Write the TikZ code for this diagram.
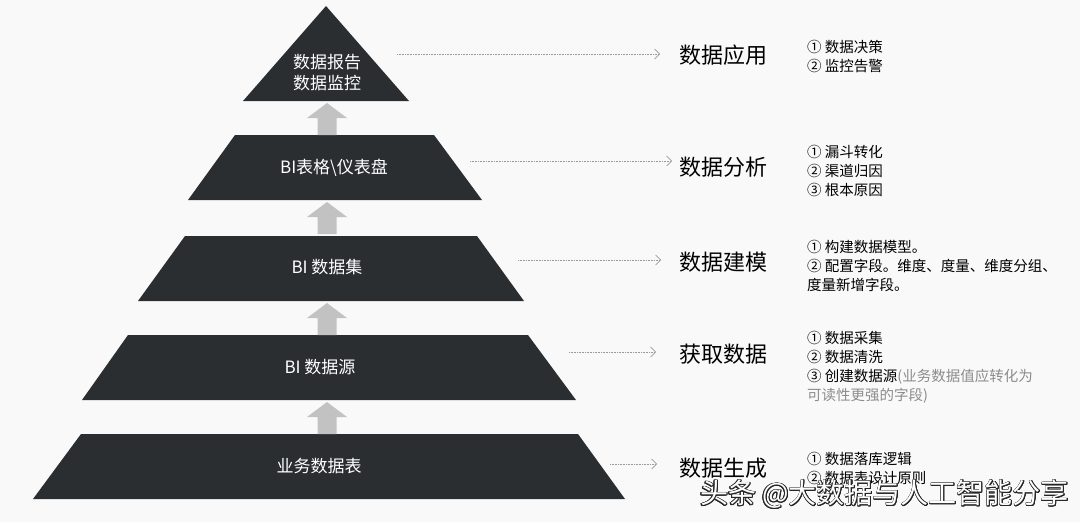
\documentclass[tikz,border=0pt]{standalone}
\usepackage{fontspec}
\setmainfont{Noto Sans CJK SC}
\usepackage[copies]{contour}
\contourlength{0.9pt}
\usetikzlibrary{arrows.meta}
\definecolor{pyr}{HTML}{2A2E31}
\definecolor{bggray}{HTML}{F9F9F9}
\definecolor{liftgray}{HTML}{C2C2C2}
\definecolor{linkgray}{HTML}{9A9A9A}
\definecolor{notegray}{HTML}{8C8C8C}

\begin{document}
\begin{tikzpicture}[x=1pt,y=-1pt,
level/.style={fill=pyr},
lift/.style={fill=liftgray},
tag/.style={text=white,align=center,font=\fontsize{17}{21}\selectfont},
stage/.style={anchor=west,inner sep=0pt,font=\fontsize{22}{26}\selectfont},
note/.style={anchor=west,inner sep=0pt,align=left,font=\fontsize{14.5}{19}\selectfont},
link/.style={draw=linkgray,densely dotted,line width=0.6pt,-{Straight Barb[length=5pt,width=10pt]}}]
\fill[bggray] (0,0) rectangle (1080,522);
\useasboundingbox (0,0) rectangle (1080,522);

\fill[level] (243,101) -- (326,6) -- (409,101) -- cycle;
\foreach \ya/\yb/\a/\b/\c/\d in {135/200/235/434/188/482,236/301/185/477/138/524,335/400/128/528/82/576,434/499/81/578/33/625}
  \fill[level] (\c,\yb) -- (\a,\ya) -- (\b,\ya) -- (\d,\yb) -- cycle;
\foreach \t in {103,202,303,402}
  \fill[lift] (307,\t+15) -- (327,\t) -- (347,\t+15) -- (336.5,\t+15) -- (336.5,\t+32) -- (317.5,\t+32) -- (317.5,\t+15) -- cycle;

\node at (327,72.5) [tag] (top) {数据报告\\数据监控};
\node at (334,168) [tag] (bi1) {BI表格\textbackslash 仪表盘};
\node at (327,267) [tag] (bi2) {BI 数据集};
\node at (320,367) [tag] (bi3) {BI 数据源};
\node at (319,466) [tag] (biz) {业务数据表};

\node at (679,55) [stage] (apply) {数据应用};
\node at (679,167) [stage] (analyse) {数据分析};
\node at (679,262) [stage] (model) {数据建模};
\node at (679,354) [stage] (fetch) {获取数据};
\node at (679,468) [stage] (make) {数据生成};

\coordinate (s1) at (397,54);  \coordinate (e1) at (660,54);
\coordinate (s2) at (470,161); \coordinate (e2) at (672,161);
\coordinate (s3) at (518,260); \coordinate (e3) at (661,260);
\coordinate (s4) at (569,352); \coordinate (e4) at (656,352);
\coordinate (s5) at (610,464); \coordinate (e5) at (657,464);
\foreach \i in {1,...,5}
  \draw[link] (s\i) -- (e\i);

\node at (807,56.5) [note] (apply note) {① 数据决策\\② 监控告警};
\node at (807,171) [note] (analyse note) {① 漏斗转化\\② 渠道归因\\③ 根本原因};
\node at (807,266) [note] (model note) {① 构建数据模型。\\② 配置字段。维度、度量、维度分组、\\度量新增字段。};
\node at (807,367) [note] (fetch note) {① 数据采集\\② 数据清洗\\③ 创建数据源{\color{notegray}(业务数据值应转化为}\\{\color{notegray}可读性更强的字段)}};
\node at (807,468.5) [note] (make note) {① 数据落库逻辑\\② 数据表设计原则};

\node at (700,495) [anchor=west,inner sep=0pt,text=white,font=\fontsize{28}{30}\selectfont] (mark) {\contour{black!85}{头条 @大数据与人工智能分享}};
\end{tikzpicture}
\end{document}
